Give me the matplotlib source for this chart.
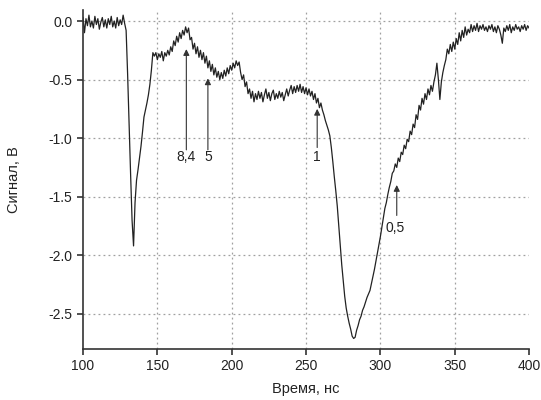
import numpy as np
import matplotlib
matplotlib.use("Agg")
import matplotlib.pyplot as plt

# time axis, 1 ns step
time_ns = np.arange(100, 401)

# signal, V (1 ns step, 10 values per row)
signal_v = [
    0.03, -0.10, 0.02, -0.04, 0.05, -0.05, 0.00, -0.06, 0.04, -0.03,   # 100
    0.02, -0.07, -0.01, 0.03, -0.05, 0.01, -0.06, 0.02, -0.03, 0.04,   # 110
    -0.05, 0.00, -0.06, 0.03, -0.04, 0.01, -0.03, 0.05, -0.02, -0.08,  # 120
    -0.45, -0.88, -1.30, -1.70, -1.92, -1.55, -1.36, -1.27, -1.17, -1.07,  # 130
    -0.95, -0.82, -0.76, -0.70, -0.63, -0.54, -0.42, -0.27, -0.30, -0.27,  # 140
    -0.33, -0.28, -0.31, -0.26, -0.34, -0.27, -0.30, -0.25, -0.29, -0.22,  # 150
    -0.26, -0.17, -0.21, -0.13, -0.18, -0.10, -0.15, -0.08, -0.12, -0.05,  # 160
    -0.10, -0.06, -0.16, -0.14, -0.24, -0.19, -0.28, -0.22, -0.31, -0.25,  # 170
    -0.33, -0.27, -0.36, -0.30, -0.40, -0.34, -0.43, -0.37, -0.46, -0.40,  # 180
    -0.48, -0.43, -0.50, -0.44, -0.49, -0.42, -0.47, -0.40, -0.45, -0.38,  # 190
    -0.42, -0.36, -0.40, -0.34, -0.38, -0.35, -0.44, -0.50, -0.46, -0.56,  # 200
    -0.52, -0.62, -0.58, -0.66, -0.60, -0.69, -0.62, -0.67, -0.60, -0.66,  # 210
    -0.61, -0.69, -0.63, -0.58, -0.66, -0.61, -0.68, -0.62, -0.59, -0.67,  # 220
    -0.62, -0.66, -0.60, -0.65, -0.61, -0.68, -0.63, -0.58, -0.64, -0.59,  # 230
    -0.55, -0.62, -0.56, -0.61, -0.55, -0.60, -0.54, -0.61, -0.56, -0.62,  # 240
    -0.57, -0.63, -0.58, -0.64, -0.60, -0.67, -0.62, -0.70, -0.66, -0.74,  # 250
    -0.70, -0.76, -0.80, -0.85, -0.89, -0.93, -0.98, -1.08, -1.20, -1.33,  # 260
    -1.45, -1.58, -1.75, -1.92, -2.08, -2.22, -2.35, -2.45, -2.52, -2.58,  # 270
    -2.63, -2.69, -2.71, -2.70, -2.64, -2.60, -2.55, -2.52, -2.47, -2.44,  # 280
    -2.40, -2.36, -2.33, -2.30, -2.24, -2.18, -2.12, -2.05, -1.98, -1.91,  # 290
    -1.84, -1.76, -1.68, -1.60, -1.55, -1.48, -1.42, -1.37, -1.30, -1.28,  # 300
    -1.22, -1.25, -1.17, -1.20, -1.12, -1.14, -1.06, -1.09, -1.01, -1.03,  # 310
    -0.94, -0.97, -0.88, -0.91, -0.80, -0.84, -0.72, -0.76, -0.66, -0.71,  # 320
    -0.62, -0.67, -0.58, -0.63, -0.55, -0.60, -0.52, -0.46, -0.36, -0.50,  # 330
    -0.67, -0.52, -0.44, -0.38, -0.33, -0.24, -0.28, -0.20, -0.26, -0.18,  # 340
    -0.24, -0.15, -0.20, -0.10, -0.17, -0.08, -0.14, -0.05, -0.12, -0.07,  # 350
    -0.10, -0.03, -0.09, -0.04, -0.08, -0.02, -0.09, -0.04, -0.07, -0.03,  # 360
    -0.08, -0.05, -0.09, -0.04, -0.07, -0.03, -0.09, -0.05, -0.10, -0.04,  # 370
    -0.07, -0.12, -0.19, -0.06, -0.09, -0.04, -0.08, -0.03, -0.10, -0.05,  # 380
    -0.08, -0.03, -0.07, -0.05, -0.09, -0.04, -0.07, -0.03, -0.08, -0.04,  # 390
    -0.06,                                                              # 400
]

# arrow annotations
arrow_labels = ["8,4", "5", "1", "0,5"]
arrow_x = [169.5, 184.0, 257.5, 311.0]
arrow_tip_y = [-0.24, -0.49, -0.75, -1.40]
arrow_tail_y = [-1.10, -1.10, -1.08, -1.66]
label_x = [169.5, 184.0, 257.5, 310.0]
label_y = [-1.16, -1.16, -1.16, -1.77]

x_ticks = [100, 150, 200, 250, 300, 350, 400]
y_ticks = [0.0, -0.5, -1.0, -1.5, -2.0, -2.5]

plt.rcParams["font.family"] = ["Liberation Sans", "DejaVu Sans"]
plt.rcParams["axes.unicode_minus"] = False

fig = plt.figure(figsize=(5.41, 4.0), dpi=100)
ax = fig.add_axes([0.1534, 0.1275, 0.8246, 0.8475])

ax.plot(time_ns, signal_v, color="#222222", linewidth=0.9)

for lab, x, ty, by, lx, ly in zip(arrow_labels, arrow_x, arrow_tip_y, arrow_tail_y, label_x, label_y):
    ax.annotate("", xy=(x, ty), xytext=(x, by),
                arrowprops=dict(arrowstyle="-|>", color="#333333", lw=0.8,
                                mutation_scale=9, shrinkA=0, shrinkB=0))
    ax.text(lx, ly, lab, ha="center", va="center", fontsize=10, color="#222222")

ax.set_xlim(100, 400)
ax.set_ylim(-2.8, 0.094)
ax.set_xticks(x_ticks)
ax.set_yticks(y_ticks)
ax.set_yticklabels([f"{v:.1f}" for v in y_ticks])

ax.grid(True, linestyle=(0, (1.5, 2.5)), color="#a0a0a0", linewidth=0.9)
ax.get_xgridlines()[-1].set_visible(False)
ax.get_xgridlines()[0].set_visible(False)

for side in ("top", "right"):
    ax.spines[side].set_visible(False)
for side in ("left", "bottom"):
    ax.spines[side].set_linewidth(1.2)
    ax.spines[side].set_color("#333333")

ax.tick_params(direction="out", length=4, width=1.2, color="#333333",
               labelsize=10, labelcolor="#222222")

ax.set_xlabel("Время, нс", fontsize=10.5, color="#222222", labelpad=6)
ax.set_ylabel("Сигнал, В", fontsize=10.5, color="#222222", labelpad=20)

fig.savefig("out.png", dpi=100)
